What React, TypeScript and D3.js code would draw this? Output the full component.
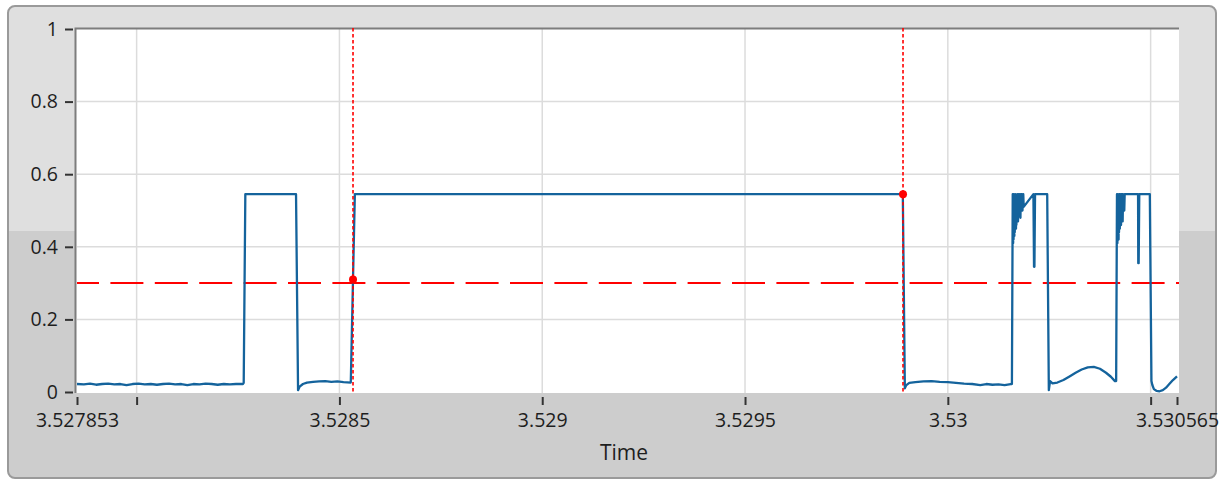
import { useEffect, useRef } from "react";
import * as d3 from "d3";

const timeMin = 3.527853;
const timeMax = 3.530565;
const xTickValues = [3.527853, 3.528, 3.5285, 3.529, 3.5295, 3.53, 3.5305, 3.530565];
const xTickLabels = ["3.527853", "", "3.5285", "3.529", "3.5295", "3.53", "", "3.530565"];
const xGridValues = [3.528, 3.5285, 3.529, 3.5295, 3.53, 3.5305];
const yTickValues = [0, 0.2, 0.4, 0.6, 0.8, 1];
const yTickLabels = ["0", "0.2", "0.4", "0.6", "0.8", "1"];
const yGridValues = [0.2, 0.4, 0.6, 0.8];
const threshold = 0.3;
const cursorTimes = [3.5285335, 3.5298895];
const cursorValues = [0.31, 0.545];

const signalTime = [
  3.527853, 3.52787, 3.527885, 3.5279, 3.527915, 3.52793, 3.527945, 3.52796, 3.527975, 3.52799,
  3.528005, 3.52802, 3.528035, 3.52805, 3.528065, 3.52808, 3.528095, 3.52811, 3.528125, 3.52814,
  3.528155, 3.52817, 3.528185, 3.5282, 3.528215, 3.52823, 3.528245, 3.528262, 3.528264, 3.528268,
  3.528393, 3.528398, 3.528402, 3.52841, 3.52842, 3.528435, 3.52845, 3.528465, 3.52848, 3.528495,
  3.52851, 3.528528, 3.528538,
  3.529889, 3.529894, 3.529897, 3.529905, 3.52992, 3.52994, 3.52996, 3.52998, 3.53, 3.53002,
  3.53004, 3.53006, 3.53008, 3.530095, 3.53011, 3.530125, 3.53014, 3.530155, 3.530158, 3.53016,
  3.530161, 3.5301615, 3.530162, 3.5301625, 3.530164, 3.5301645, 3.530165, 3.530166, 3.530168,
  3.5301685, 3.530169, 3.530171, 3.530173, 3.530174, 3.530176, 3.530177, 3.530179, 3.53018,
  3.530183, 3.530184, 3.530186, 3.530187, 3.530211, 3.5302125, 3.5302135, 3.530215, 3.530245, 3.530249,
  3.530252, 3.530258, 3.53027, 3.530285, 3.5303, 3.530315, 3.53033, 3.530345, 3.53036, 3.530375,
  3.53039, 3.530402, 3.530412, 3.530415, 3.530417,
  3.530418, 3.5304185, 3.530419, 3.5304195, 3.530421, 3.5304215, 3.530422, 3.530423, 3.530424,
  3.530425, 3.530427, 3.530428, 3.530429, 3.53043, 3.530431, 3.530432, 3.530435, 3.530436,
  3.530469, 3.5304695, 3.5304705, 3.530472, 3.530498, 3.530502,
  3.530504, 3.530508, 3.530515, 3.530522, 3.53053, 3.530538, 3.530546, 3.530555, 3.530565,
];

const signalValue = [
  0.022, 0.021, 0.023, 0.02, 0.022, 0.023, 0.021, 0.022, 0.019, 0.022,
  0.023, 0.021, 0.022, 0.02, 0.022, 0.023, 0.021, 0.022, 0.019, 0.022,
  0.021, 0.023, 0.022, 0.02, 0.022, 0.021, 0.022, 0.022, 0.025, 0.545,
  0.545, 0.005, 0.015, 0.022, 0.026, 0.028, 0.029, 0.03, 0.028, 0.029,
  0.027, 0.026, 0.545,
  0.545, 0.01, 0.018, 0.025, 0.027, 0.029, 0.03, 0.028, 0.027, 0.025,
  0.023, 0.022, 0.019, 0.022, 0.02, 0.021, 0.019, 0.022, 0.022, 0.545,
  0.41, 0.5, 0.42, 0.545, 0.43, 0.52, 0.44, 0.545, 0.45,
  0.53, 0.46, 0.545, 0.47, 0.545, 0.49, 0.545, 0.48, 0.545,
  0.545, 0.5, 0.545, 0.51, 0.545, 0.345, 0.345, 0.545, 0.545, 0.005,
  0.03, 0.024, 0.026, 0.033, 0.043, 0.053, 0.062, 0.068, 0.069, 0.064,
  0.053, 0.042, 0.03, 0.03, 0.545,
  0.41, 0.51, 0.42, 0.545, 0.42, 0.52, 0.44, 0.545, 0.45,
  0.545, 0.46, 0.545, 0.48, 0.545, 0.47, 0.545, 0.5, 0.545,
  0.545, 0.355, 0.355, 0.545, 0.545, 0.03,
  0.02, 0.008, 0.003, 0.002, 0.005, 0.012, 0.022, 0.033, 0.043,
];

export default function App() {
  const chartRef = useRef<SVGSVGElement>(null);

  useEffect(() => {
    if (!chartRef.current) return;
    const svg = d3.select(chartRef.current);
    svg.selectAll("*").remove();

    const width = 1223;
    const height = 482;
    const plot = { left: 77, right: 1177, top: 29, bottom: 392 };
    const font = "'Open Sans', 'Noto Sans', sans-serif";

    svg.attr("width", width).attr("height", height);

    const x = d3.scaleLinear().domain([timeMin, timeMax]).range([plot.left, plot.right]);
    const y = d3.scaleLinear().domain([0, 1]).range([plot.bottom, plot.top]);

    // frame with two-tone panel
    const defs = svg.append("defs");
    defs
      .append("clipPath")
      .attr("id", "frame-clip")
      .append("rect")
      .attr("x", 8)
      .attr("y", 6)
      .attr("width", 1208)
      .attr("height", 472)
      .attr("rx", 7);

    const frame = svg.append("g").attr("clip-path", "url(#frame-clip)");
    frame.append("rect").attr("x", 8).attr("y", 6).attr("width", 1208).attr("height", 225).attr("fill", "#dfdfdf");
    frame.append("rect").attr("x", 8).attr("y", 231).attr("width", 1208).attr("height", 247).attr("fill", "#cdcdcd");

    svg
      .append("rect")
      .attr("x", 8)
      .attr("y", 6)
      .attr("width", 1208)
      .attr("height", 472)
      .attr("rx", 7)
      .attr("fill", "none")
      .attr("stroke", "#9a9a9a")
      .attr("stroke-width", 2);

    // plot area
    svg
      .append("rect")
      .attr("x", 76)
      .attr("y", 28)
      .attr("width", 1179 - 76)
      .attr("height", 393 - 28)
      .attr("fill", "#ffffff");

    // grid
    svg
      .append("g")
      .selectAll("line")
      .data(yGridValues)
      .join("line")
      .attr("x1", plot.left)
      .attr("x2", 1179)
      .attr("y1", (d) => y(d))
      .attr("y2", (d) => y(d))
      .attr("stroke", "#dcdcdc")
      .attr("stroke-width", 1.5);

    svg
      .append("g")
      .selectAll("line")
      .data(xGridValues)
      .join("line")
      .attr("x1", (d) => x(d))
      .attr("x2", (d) => x(d))
      .attr("y1", 28)
      .attr("y2", 393)
      .attr("stroke", "#dcdcdc")
      .attr("stroke-width", 1.5);

    // plot border (left + top)
    svg
      .append("path")
      .attr("d", `M75.5,393V28.5H1179`)
      .attr("fill", "none")
      .attr("stroke", "#7d7d7d")
      .attr("stroke-width", 2);

    // threshold line
    svg
      .append("line")
      .attr("x1", plot.left)
      .attr("x2", 1179)
      .attr("y1", y(threshold))
      .attr("y2", y(threshold))
      .attr("stroke", "#ff0000")
      .attr("stroke-width", 2)
      .attr("stroke-dasharray", "33,11.4")
      .attr("stroke-dashoffset", 11);

    // signal
    const points: [number, number][] = signalTime.map((t, i) => [t, signalValue[i]]);
    const line = d3
      .line<[number, number]>()
      .x((d) => x(d[0]))
      .y((d) => y(d[1]));

    svg
      .append("path")
      .datum(points)
      .attr("d", line)
      .attr("fill", "none")
      .attr("stroke", "#14639c")
      .attr("stroke-width", 2.3)
      .attr("stroke-linejoin", "round");

    // cursors
    svg
      .append("g")
      .selectAll("line")
      .data(cursorTimes)
      .join("line")
      .attr("x1", (d) => x(d))
      .attr("x2", (d) => x(d))
      .attr("y1", 28)
      .attr("y2", plot.bottom)
      .attr("stroke", "#ff0000")
      .attr("stroke-width", 1.6)
      .attr("stroke-dasharray", "3.5,2.5");

    svg
      .append("g")
      .selectAll("circle")
      .data(cursorTimes)
      .join("circle")
      .attr("cx", (d) => x(d))
      .attr("cy", (d, i) => y(cursorValues[i]))
      .attr("r", 4)
      .attr("fill", "#ff0000");

    // y axis
    const yAxis = svg
      .append("g")
      .attr("transform", `translate(73,0)`)
      .call(
        d3
          .axisLeft(y)
          .tickValues(yTickValues)
          .tickFormat((d, i) => yTickLabels[i])
          .tickSize(8)
          .tickSizeOuter(0)
          .tickPadding(7)
      );
    yAxis.select(".domain").remove();
    yAxis.selectAll("line").attr("stroke", "#333").attr("stroke-width", 2);
    yAxis
      .selectAll("text")
      .style("font-family", font)
      .style("font-size", "19.5px")
      .attr("fill", "#1e1e1e");

    // x axis
    const xAxis = svg
      .append("g")
      .attr("transform", `translate(0,397)`)
      .call(
        d3
          .axisBottom(x)
          .tickValues(xTickValues)
          .tickFormat((d, i) => xTickLabels[i])
          .tickSize(8)
          .tickSizeOuter(0)
          .tickPadding(8)
      );
    xAxis.select(".domain").remove();
    xAxis.selectAll("line").attr("stroke", "#333").attr("stroke-width", 2);
    xAxis
      .selectAll("text")
      .style("font-family", font)
      .style("font-size", "19.5px")
      .attr("fill", "#1e1e1e");

    // axis title
    svg
      .append("text")
      .attr("x", 624)
      .attr("y", 460)
      .attr("text-anchor", "middle")
      .style("font-family", font)
      .style("font-size", "21px")
      .attr("fill", "#1e1e1e")
      .text("Time");
  }, []);

  return (
    <div style={{ position: "absolute", left: 0, top: 0 }}>
      <svg ref={chartRef}></svg>
    </div>
  );
}
